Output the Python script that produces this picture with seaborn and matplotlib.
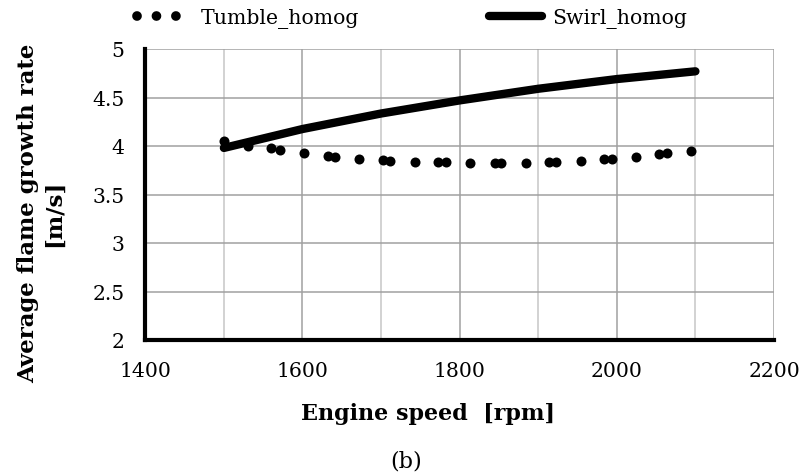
import matplotlib
matplotlib.use("Agg")
import matplotlib.pyplot as plt
from matplotlib.lines import Line2D
import seaborn as sns
import pandas as pd

# data
tumble_rpm = [1500, 1531, 1560, 1571, 1602, 1632, 1641, 1672, 1702, 1712, 1743,
              1772, 1782, 1813, 1845, 1852, 1884, 1914, 1923, 1954, 1984, 1994,
              2024, 2054, 2064, 2095]
tumble_rate = [4.05, 4.00, 3.98, 3.96, 3.93, 3.90, 3.89, 3.87, 3.855, 3.85, 3.84,
               3.83, 3.83, 3.82, 3.82, 3.82, 3.82, 3.84, 3.84, 3.85, 3.865, 3.87,
               3.89, 3.92, 3.93, 3.95]
swirl_rpm = [1500, 1600, 1700, 1800, 1900, 2000, 2100]
swirl_rate = [3.98, 4.175, 4.335, 4.47, 4.59, 4.69, 4.77]

x_ticks = [1400, 1600, 1800, 2000, 2200]
y_ticks = [2, 2.5, 3, 3.5, 4, 4.5, 5]

tumble = pd.DataFrame({"rpm": tumble_rpm, "rate": tumble_rate})
swirl = pd.DataFrame({"rpm": swirl_rpm, "rate": swirl_rate})

sns.set_theme(style="white")
plt.rcParams["font.family"] = ["DejaVu Serif"]
plt.rcParams["text.color"] = "black"
plt.rcParams["axes.labelcolor"] = "black"

fig = plt.figure(figsize=(8.01, 4.77), dpi=100)
ax = fig.add_axes([145.3 / 801, 1 - 341 / 477, (774 - 145.3) / 801, (341 - 50) / 477])

# grid: light minor lines every 100 rpm, darker majors
for x in range(1500, 2200, 200):
    ax.axvline(x, color="#c6c6c6", lw=1.1, zorder=0)
for x in range(1600, 2201, 200):
    ax.axvline(x, color="#a0a0a0", lw=1.1, zorder=0)
for y in y_ticks[1:]:
    ax.axhline(y, color="#a0a0a0", lw=1.1, zorder=0)

sns.lineplot(data=swirl, x="rpm", y="rate", ax=ax, color="black", lw=6,
             solid_capstyle="round", solid_joinstyle="round", zorder=3)
sns.scatterplot(data=tumble, x="rpm", y="rate", ax=ax, color="black", s=52,
                edgecolor="black", linewidth=0, zorder=4)

ax.set_xlim(1400, 2200)
ax.set_ylim(2, 5)
ax.set_xticks(x_ticks)
ax.set_yticks(y_ticks)
ax.set_yticklabels([f"{v:g}" for v in y_ticks])
ax.set_xlabel("")
ax.set_ylabel("")
ax.tick_params(axis="both", labelsize=14.7, colors="black", labelcolor="black",
               direction="out", length=4, width=2.5)
ax.tick_params(axis="x", pad=11)
ax.tick_params(axis="y", pad=11)

for side in ["top", "right"]:
    ax.spines[side].set_visible(False)
for side in ["left", "bottom"]:
    ax.spines[side].set_color("black")
    ax.spines[side].set_linewidth(3)

fig.text(301 / 801, 1 - 414 / 477, "Engine speed  [rpm]", fontsize=16,
         fontweight="bold", ha="left", va="center")
fig.text(41 / 801, 1 - 213 / 477, "Average flame growth rate\n[m/s]", fontsize=16.5,
         fontweight="bold", ha="center", va="center", rotation=90,
         multialignment="center", linespacing=1.2)
fig.text(406 / 801, 1 - 462 / 477, "(b)", fontsize=16, ha="center", va="center")

handles = [
    Line2D([], [], color="black", lw=7, linestyle=(0, (0.001, 2.0)),
           dash_capstyle="round"),
    Line2D([], [], color="black", lw=6, solid_capstyle="round"),
]
fig.legend(handles, ["Tumble_homog", "Swirl_homog"], loc="center left",
           bbox_to_anchor=(137 / 801, 1 - 19 / 477), ncol=2, frameon=False,
           fontsize=14.7, handlelength=2.6, handletextpad=0.5,
           columnspacing=6.4, borderpad=0, borderaxespad=0)

fig.savefig("out.png", dpi=100)
